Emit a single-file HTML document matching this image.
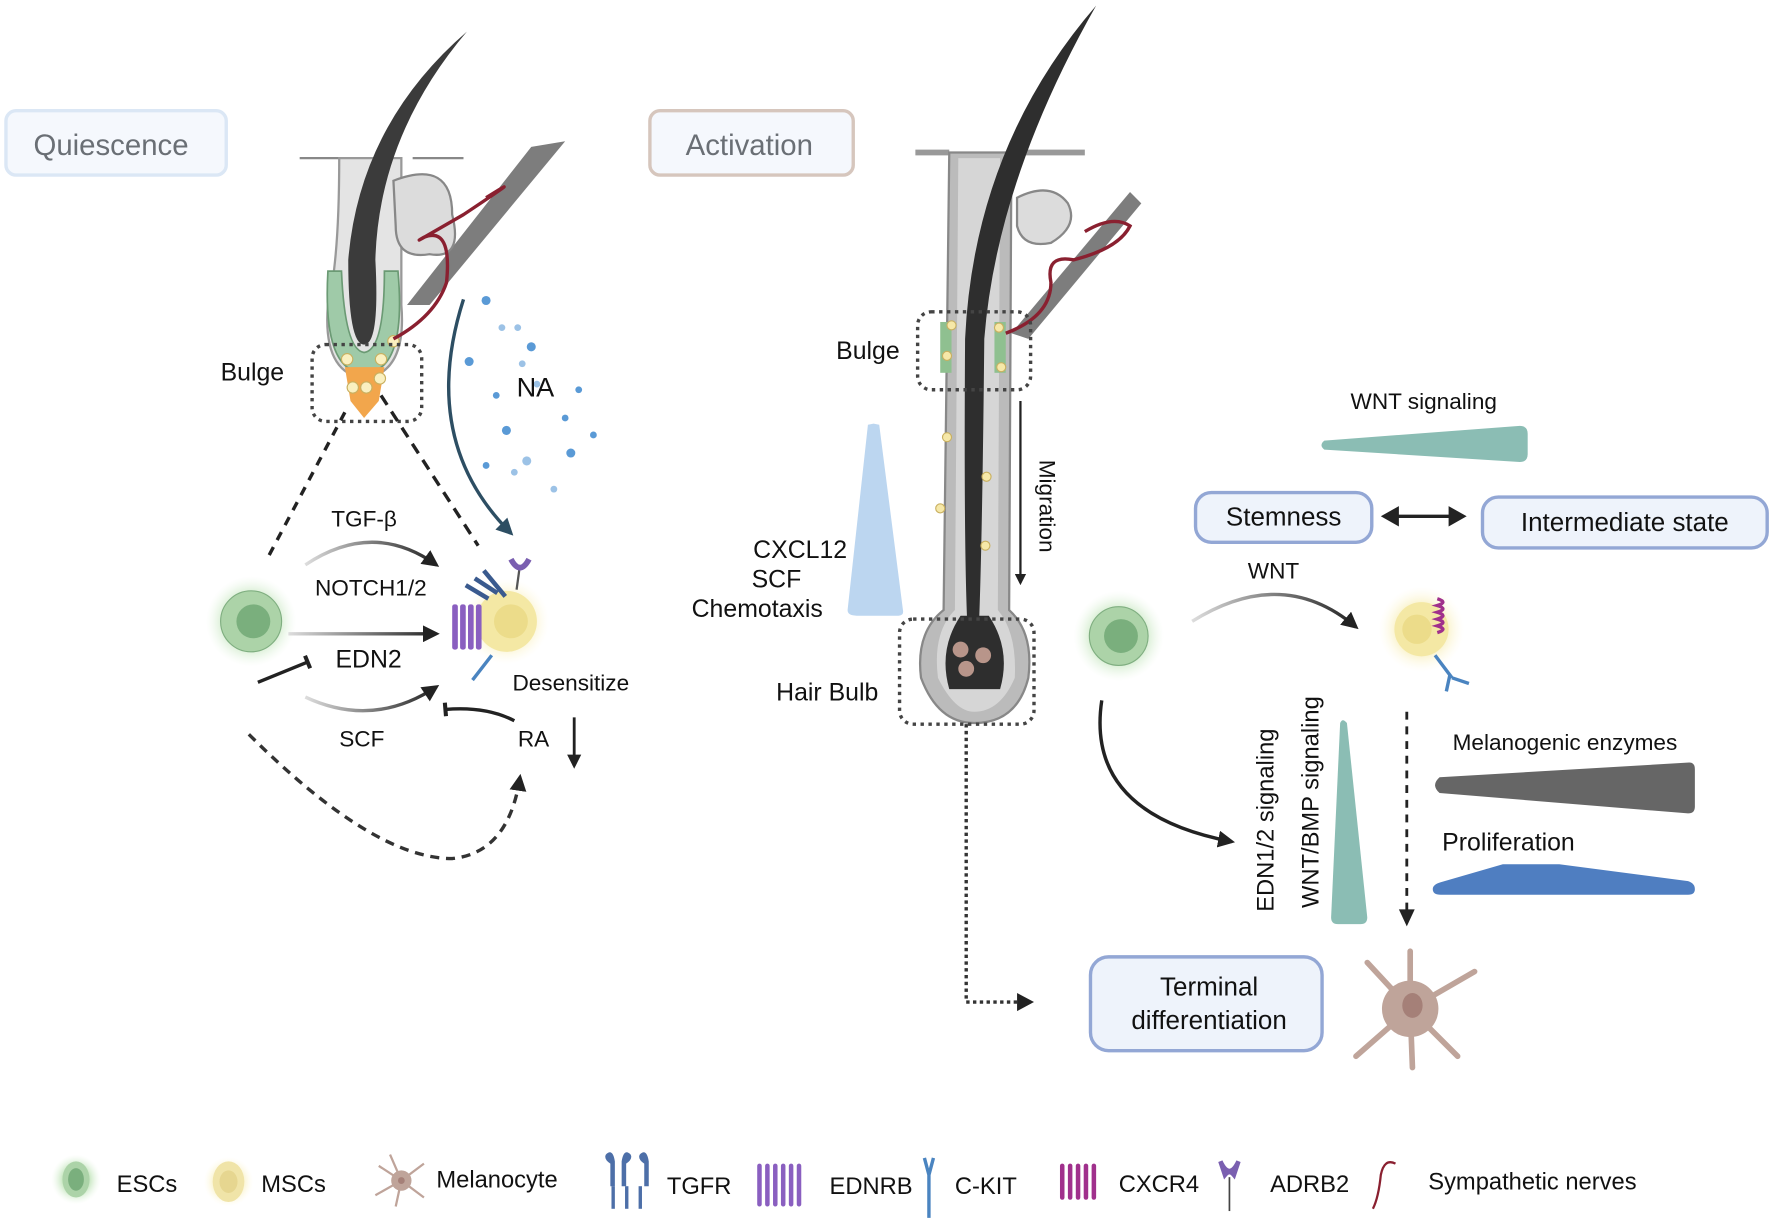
<!DOCTYPE html>
<html><head><meta charset="utf-8"><style>
html,body{margin:0;padding:0;background:#fff;}
svg{display:block;}
text{font-family:"Liberation Sans",Arial,sans-serif;fill:#111;}
</style></head><body>
<svg width="1772" height="1228" viewBox="0 0 1568 1087" xmlns="http://www.w3.org/2000/svg">
<defs>
<radialGradient id="gg"><stop offset="0.5" stop-color="#b8e0b0" stop-opacity="0.9"/><stop offset="1" stop-color="#e8f6e4" stop-opacity="0"/></radialGradient>
<radialGradient id="yg"><stop offset="0.5" stop-color="#f6ecb0" stop-opacity="0.9"/><stop offset="1" stop-color="#fffbe8" stop-opacity="0"/></radialGradient>
<marker id="ah" viewBox="0 0 10 10" refX="8" refY="5" markerWidth="5" markerHeight="5" orient="auto"><path d="M0,0L10,5L0,10z" fill="#222"/></marker>
<marker id="ahb" viewBox="0 0 10 10" refX="8" refY="5" markerWidth="5" markerHeight="5" orient="auto"><path d="M0,0L10,5L0,10z" fill="#2d4e63"/></marker>
<marker id="bar" viewBox="0 0 10 10" refX="5" refY="5" markerWidth="4" markerHeight="6" orient="auto"><path d="M5,0V10" stroke="#222" stroke-width="3"/></marker>
<linearGradient id="fadeL" x1="0" x2="1"><stop offset="0" stop-color="#ddd"/><stop offset="1" stop-color="#222"/></linearGradient>
<linearGradient id="fadeH" gradientUnits="userSpaceOnUse" x1="255" y1="0" x2="386" y2="0"><stop offset="0" stop-color="#ddd"/><stop offset="1" stop-color="#222"/></linearGradient>
</defs>

<!-- title boxes -->
<rect x="5" y="98" width="195" height="57" rx="9" fill="#f5f8fd" stroke="#dbe7f5" stroke-width="3"/>
<text x="98" y="137" font-size="26" text-anchor="middle" style="fill:#6a6f75">Quiescence</text>
<rect x="575" y="98" width="180" height="57" rx="9" fill="#f5f8fd" stroke="#d6c6bd" stroke-width="3"/>
<text x="663" y="137" font-size="26" text-anchor="middle" style="fill:#6a6f75">Activation</text>

<!-- LEFT follicle -->
<path d="M265,140H300M365,140H410" stroke="#888" stroke-width="2" fill="none"/>
<path d="M470,130L500,125L380,270L360,270Z" fill="#7d7d7d"/>
<path d="M300,140 Q300,230 290,270 Q285,330 322,335 Q360,330 355,270 L355,140Z" fill="#e4e4e4" stroke="#999" stroke-width="2"/>
<path d="M348,160 Q400,140 400,190 Q410,230 380,225 Q350,230 350,200Z" fill="#dcdcdc" stroke="#888" stroke-width="2"/>
<path d="M290,240 Q285,330 322,330 Q360,330 352,240 L340,240 Q340,310 322,312 Q305,310 302,240Z" fill="#9fcaa8" stroke="#6b9a74" stroke-width="1.5"/>
<path d="M322,305 Q308,305 308,230 Q318,110 413,28 Q335,120 332,230 Q336,305 322,305Z" fill="#3b3b3b"/>
<path d="M305,325 L340,325 L335,355 L322,370 L310,355Z" fill="#f2a64c"/>
<circle cx="307" cy="318" r="5" fill="#faf0c0" stroke="#c9b060"/><circle cx="337" cy="318" r="5" fill="#faf0c0" stroke="#c9b060"/><circle cx="348" cy="302" r="5" fill="#faf0c0" stroke="#c9b060"/>
<circle cx="312" cy="343" r="5" fill="#faf0c0" stroke="#c9b060"/><circle cx="324" cy="343" r="5" fill="#faf0c0" stroke="#c9b060"/><circle cx="336" cy="335" r="5" fill="#faf0c0" stroke="#c9b060"/>
<path d="M348,300 Q385,280 395,250 Q400,200 375,210 Q358,220 410,190 Q470,150 430,175" fill="none" stroke="#8a2030" stroke-width="3"/>
<rect x="276" y="305" width="97" height="68" rx="12" fill="none" stroke="#444" stroke-width="3" stroke-dasharray="3,4"/>
<text x="195" y="337" font-size="22">Bulge</text>
<g fill="#5a9ad6">
<circle cx="430" cy="266" r="4"/><circle cx="415" cy="320" r="4"/><circle cx="470" cy="307" r="4"/><circle cx="448" cy="381" r="4"/><circle cx="505" cy="401" r="4"/><circle cx="439" cy="350" r="3"/><circle cx="512" cy="345" r="3"/><circle cx="500" cy="370" r="3"/><circle cx="525" cy="385" r="3"/><circle cx="430" cy="412" r="3"/><circle cx="466" cy="408" r="4" opacity=".6"/><circle cx="490" cy="433" r="3" opacity=".6"/><circle cx="444" cy="290" r="3" opacity=".6"/><circle cx="458" cy="290" r="3" opacity=".6"/><circle cx="462" cy="322" r="3" opacity=".6"/><circle cx="475" cy="340" r="3" opacity=".6"/><circle cx="455" cy="418" r="3" opacity=".6"/></g>
<text x="457" y="351" font-size="24">NA</text>
<path d="M410,265 Q370,390 452,472" fill="none" stroke="#2d4e63" stroke-width="3" marker-end="url(#ahb)"/>
<path d="M305,365 L235,497" stroke="#222" stroke-width="3" stroke-dasharray="8,7"/>
<path d="M337,350 L423,483" stroke="#222" stroke-width="3" stroke-dasharray="10,7"/>
<circle cx="222" cy="550" r="40" fill="url(#gg)"/>
<circle cx="222" cy="550" r="27" fill="#acd3a8" stroke="#7fae80"/>
<circle cx="224" cy="550" r="15" fill="#7aaf7d"/>
<circle cx="448" cy="550" r="38" fill="url(#yg)"/>
<circle cx="448" cy="550" r="27" fill="#f4e8a4"/><circle cx="452" cy="550" r="15" fill="#ecdc8a"/>
<g fill="#8a5fc0"><rect x="400" y="535" width="5" height="40" rx="2"/><rect x="407" y="535" width="5" height="40" rx="2"/><rect x="414" y="535" width="5" height="40" rx="2"/><rect x="421" y="535" width="5" height="40" rx="2"/></g>
<path d="M440,525 L420,512 M432,530 L412,518 M447,528 L428,505" stroke="#3a5a8e" stroke-width="4"/>
<path d="M457,522 L460,500" stroke="#555" stroke-width="2"/><path d="M452,495 Q460,510 468,495" stroke="#7a5fb0" stroke-width="5" fill="none"/>
<path d="M435,580 L418,602" stroke="#4a84c0" stroke-width="3"/>
<text x="322" y="466" font-size="20" text-anchor="middle">TGF-β</text>
<path d="M270,500 Q330,460 386,500" fill="none" stroke="url(#fadeL)" stroke-width="3" marker-end="url(#ah)"/>
<text x="328" y="527" font-size="20" text-anchor="middle">NOTCH1/2</text>
<path d="M255,561 L386,561" stroke="url(#fadeH)" stroke-width="3" marker-end="url(#ah)"/>
<text x="326" y="591" font-size="22" text-anchor="middle">EDN2</text>
<path d="M228,604 L272,586" stroke="#222" stroke-width="3" marker-end="url(#bar)"/>
<path d="M270,617 Q330,645 386,608" fill="none" stroke="url(#fadeL)" stroke-width="3" marker-end="url(#ah)"/>
<text x="320" y="661" font-size="20" text-anchor="middle">SCF</text>
<text x="505" y="611" font-size="20" text-anchor="middle">Desensitize</text>
<text x="472" y="661" font-size="20" text-anchor="middle">RA</text>
<path d="M455,638 Q430,625 394,628" fill="none" stroke="#222" stroke-width="3" marker-end="url(#bar)"/>
<path d="M508,635 L508,678" stroke="#222" stroke-width="2.5" marker-end="url(#ah)"/>
<path d="M220,650 Q330,760 400,760 Q450,755 460,688" fill="none" stroke="#333" stroke-width="3" stroke-dasharray="8,6" marker-end="url(#ah)"/>

<!-- CENTER follicle -->
<path d="M810,135H840M895,135H960" stroke="#999" stroke-width="5"/>
<path d="M1000,170L1010,180L910,300L895,295Z" fill="#7d7d7d"/>
<path d="M840,135 L835,540 Q810,560 815,600 Q830,640 862,640 Q900,640 910,600 Q915,560 893,540 L895,135Z" fill="#bbb" stroke="#888" stroke-width="2"/>
<path d="M848,140 L845,540 Q825,560 830,600 Q845,630 862,630 Q885,630 898,600 Q900,560 883,540 L885,140Z" fill="#d6d6d6"/>
<path d="M900,175 Q930,160 945,180 Q955,200 930,215 Q905,220 900,200Z" fill="#dcdcdc" stroke="#888" stroke-width="2"/>
<path d="M862,600 Q852,600 854,300 Q862,130 970,5 Q882,160 871,300 Q868,600 862,600Z" fill="#2e2e2e"/>
<path d="M850,545 Q830,575 840,610 L885,610 Q895,575 875,545Z" fill="#2e2e2e"/>
<circle cx="850" cy="575" r="7" fill="#b8958a"/><circle cx="870" cy="580" r="7" fill="#b8958a"/><circle cx="855" cy="592" r="7" fill="#b8958a"/>
<rect x="832" y="285" width="10" height="45" fill="#8fc090"/><rect x="880" y="285" width="10" height="45" fill="#8fc090"/>
<g fill="#f6e8a8" stroke="#c9b060"><circle cx="842" cy="288" r="4"/><circle cx="838" cy="315" r="4"/><circle cx="884" cy="290" r="4"/><circle cx="886" cy="325" r="4"/><circle cx="838" cy="387" r="4"/><circle cx="873" cy="422" r="4"/><circle cx="832" cy="450" r="4"/><circle cx="872" cy="483" r="4"/></g>
<path d="M890,295 Q930,280 930,250 Q925,225 950,230 Q990,220 1000,200 Q985,190 960,205" fill="none" stroke="#8a2030" stroke-width="3"/>
<rect x="812" y="276" width="100" height="69" rx="12" fill="none" stroke="#444" stroke-width="3" stroke-dasharray="3,4"/>
<text x="768" y="318" font-size="22" text-anchor="middle">Bulge</text>
<path d="M903,355 L903,516" stroke="#222" stroke-width="2" marker-end="url(#ah)"/>
<text x="0" y="0" font-size="20" text-anchor="middle" transform="translate(920,448) rotate(90)">Migration</text>
<path d="M773,375 L768,376 L750,540 Q750,545 758,545 L795,545 Q800,545 799,540 L778,376Z" fill="#bcd6f0"/>
<text x="708" y="494" font-size="22" text-anchor="middle">CXCL12</text>
<text x="687" y="520" font-size="22" text-anchor="middle">SCF</text>
<text x="670" y="546" font-size="22" text-anchor="middle">Chemotaxis</text>
<text x="732" y="620" font-size="22" text-anchor="middle">Hair Bulb</text>
<rect x="796" y="548" width="119" height="93" rx="12" fill="none" stroke="#444" stroke-width="3" stroke-dasharray="3,4"/>
<path d="M855,641 L855,887 L912,887" fill="none" stroke="#333" stroke-width="3" stroke-dasharray="3,3"/>
<path d="M900,879 L915,887 L900,895Z" fill="#222"/>

<!-- RIGHT -->
<text x="1260" y="362" font-size="20" text-anchor="middle">WNT signaling</text>
<path d="M1172,390 L1345,377 Q1352,377 1352,384 L1352,402 Q1352,409 1345,409 L1172,398 Q1167,394 1172,390Z" fill="#8bbdb4"/>
<rect x="1058" y="436" width="156" height="44" rx="14" fill="#eef3fb" stroke="#93a7d5" stroke-width="3"/>
<text x="1136" y="465" font-size="23" text-anchor="middle">Stemness</text>
<rect x="1312" y="440" width="252" height="45" rx="14" fill="#eef3fb" stroke="#93a7d5" stroke-width="3"/>
<text x="1438" y="470" font-size="23" text-anchor="middle">Intermediate state</text>
<path d="M1232,457 L1288,457" stroke="#222" stroke-width="3"/>
<path d="M1222,457 L1238,448 L1238,466Z M1298,457 L1282,448 L1282,466Z" fill="#222"/>
<text x="1127" y="512" font-size="20" text-anchor="middle">WNT</text>
<circle cx="990" cy="563" r="40" fill="url(#gg)"/>
<circle cx="990" cy="563" r="26" fill="#acd3a8" stroke="#7fae80"/><circle cx="992" cy="563" r="15" fill="#7aaf7d"/>
<path d="M1055,550 Q1135,500 1200,555" fill="none" stroke="url(#fadeL)" stroke-width="3" marker-end="url(#ah)"/>
<circle cx="1258" cy="557" r="38" fill="url(#yg)"/>
<circle cx="1258" cy="557" r="24" fill="#f4e8a4"/><circle cx="1254" cy="557" r="13" fill="#ecdc8a"/>
<path d="M1272,530 q10,3 0,6 q10,3 0,6 q10,3 0,6 q10,3 0,6 q10,3 0,6" fill="none" stroke="#a0308c" stroke-width="3"/>
<path d="M1270,580 L1285,600 M1283,598 L1280,612 M1285,600 L1300,605" stroke="#4a84c0" stroke-width="3"/>
<path d="M975,620 Q960,720 1090,745" fill="none" stroke="#222" stroke-width="3" marker-end="url(#ah)"/>
<text x="0" y="0" font-size="21" text-anchor="middle" transform="translate(1127,726) rotate(-90)">EDN1/2 signaling</text>
<text x="0" y="0" font-size="21" text-anchor="middle" transform="translate(1167,710) rotate(-90)">WNT/BMP signaling</text>
<path d="M1186,640 Q1188,635 1192,640 L1210,812 Q1210,818 1204,818 L1184,818 Q1178,818 1178,812Z" fill="#8bbdb4"/>
<path d="M1245,630 L1245,808" stroke="#222" stroke-width="2.5" stroke-dasharray="7,6"/>
<path d="M1238,805 L1245,820 L1252,805Z" fill="#222"/>
<text x="1385" y="664" font-size="20" text-anchor="middle">Melanogenic enzymes</text>
<path d="M1274,688 L1495,675 Q1500,675 1500,681 L1500,714 Q1500,720 1494,720 L1274,702 Q1266,695 1274,688Z" fill="#666"/>
<text x="1335" y="753" font-size="22" text-anchor="middle">Proliferation</text>
<path d="M1275,781 L1330,765 L1380,765 L1494,780 Q1500,782 1500,787 Q1500,792 1494,792 L1275,792 Q1268,792 1268,787 Q1268,783 1275,781Z" fill="#4f7ec1"/>
<rect x="965" y="847" width="205" height="83" rx="16" fill="#eef3fb" stroke="#93a7d5" stroke-width="3"/>
<text x="1070" y="881" font-size="23" text-anchor="middle">Terminal</text>
<text x="1070" y="911" font-size="23" text-anchor="middle">differentiation</text>
<g stroke="#bfa49a" stroke-width="5" stroke-linecap="round" fill="none">
<path d="M1248,893 L1248,842 M1248,893 L1305,860 M1248,893 L1290,935 M1248,893 L1250,945 M1248,893 L1200,935 M1248,893 L1210,852"/></g>
<circle cx="1248" cy="893" r="25" fill="#bfa49a"/><ellipse cx="1250" cy="890" rx="9" ry="11" fill="#a58078"/>

<!-- LEGEND -->
<circle cx="67" cy="1044" r="22" fill="url(#gg)"/><ellipse cx="67" cy="1044" rx="12" ry="16" fill="#acd3a8"/><ellipse cx="67" cy="1044" rx="7" ry="10" fill="#7aaf7d"/>
<text x="103" y="1055" font-size="21">ESCs</text>
<circle cx="202" cy="1046" r="22" fill="url(#yg)"/><ellipse cx="202" cy="1046" rx="14" ry="18" fill="#f0e4a8"/><ellipse cx="202" cy="1046" rx="8" ry="10" fill="#e6d690"/>
<text x="231" y="1055" font-size="21">MSCs</text>
<g stroke="#bfa49a" stroke-width="2" fill="none"><path d="M355,1045 L345,1022 M355,1045 L375,1030 M355,1045 L375,1060 M355,1045 L350,1068 M355,1045 L332,1058 M355,1045 L335,1032"/></g>
<circle cx="355" cy="1045" r="9" fill="#bfa49a"/><circle cx="355" cy="1045" r="3" fill="#a58078"/>
<text x="386" y="1051" font-size="21">Melanocyte</text>
<g fill="#4d6fa8"><path d="M536,1022 q6,-6 8,6 l0,22 h-4 l0,-20 q-6,-4 -4,-8z M558,1022 q-6,-6 -8,6 l0,22 h4 l0,-20 q6,-4 4,-8z M566,1022 q6,-6 8,6 l0,22 h-4 l0,-20 q-6,-4 -4,-8z"/><rect x="541" y="1050" width="3" height="20"/><rect x="553" y="1050" width="3" height="20"/><rect x="565" y="1050" width="3" height="20"/></g>
<text x="590" y="1057" font-size="21">TGFR</text>
<g fill="#8a5fc0"><rect x="670" y="1030" width="4" height="38" rx="2"/><rect x="677" y="1030" width="4" height="38" rx="2"/><rect x="684" y="1030" width="4" height="38" rx="2"/><rect x="691" y="1030" width="4" height="38" rx="2"/><rect x="698" y="1030" width="4" height="38" rx="2"/><rect x="705" y="1030" width="4" height="38" rx="2"/></g>
<text x="734" y="1057" font-size="21">EDNRB</text>
<path d="M818,1025 L822,1040 L826,1025 M822,1040 L822,1078" stroke="#4a84c0" stroke-width="3" fill="none"/>
<text x="845" y="1057" font-size="21">C-KIT</text>
<g fill="#a0308c"><rect x="938" y="1030" width="4" height="32" rx="2"/><rect x="945" y="1030" width="4" height="32" rx="2"/><rect x="952" y="1030" width="4" height="32" rx="2"/><rect x="959" y="1030" width="4" height="32" rx="2"/><rect x="966" y="1030" width="4" height="32" rx="2"/></g>
<text x="990" y="1055" font-size="21">CXCR4</text>
<path d="M1080,1028 Q1088,1045 1096,1028 L1092,1040 Q1088,1035 1084,1040Z" fill="#7a5fb0" stroke="#7a5fb0" stroke-width="4"/><path d="M1088,1042 L1088,1072" stroke="#444" stroke-width="1.5"/>
<text x="1124" y="1055" font-size="21">ADRB2</text>
<path d="M1235,1030 Q1225,1025 1222,1040 Q1220,1060 1215,1070" fill="none" stroke="#8a2030" stroke-width="2"/>
<text x="1264" y="1053" font-size="21">Sympathetic nerves</text>
</svg>
</body></html>
